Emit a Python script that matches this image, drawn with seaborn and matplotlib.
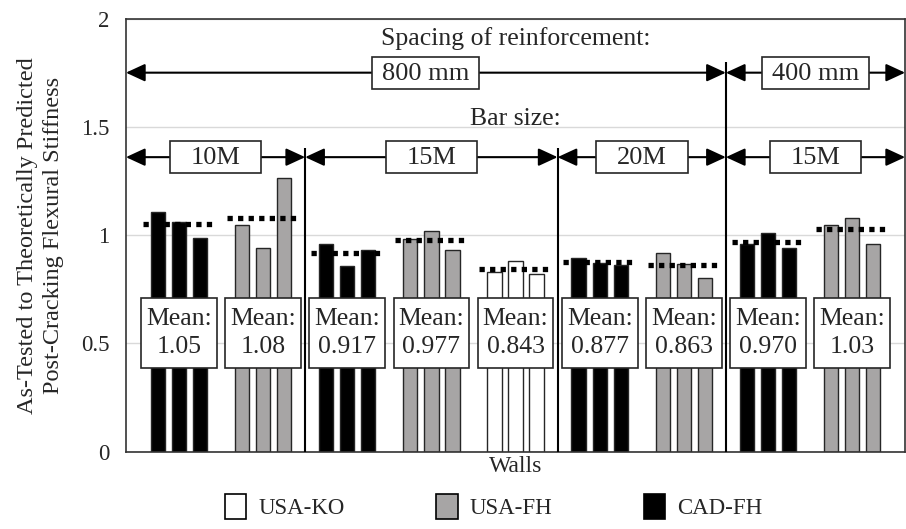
import matplotlib
matplotlib.use("Agg")
import matplotlib.pyplot as plt
import seaborn as sns
import pandas as pd
import numpy as np
from matplotlib.patches import Patch, Rectangle

# wall groups (left to right), each with three walls
group_types = ["CAD-FH", "USA-FH", "CAD-FH", "USA-FH", "USA-KO",
               "CAD-FH", "USA-FH", "CAD-FH", "USA-FH"]
wall_values = [
    [1.108, 1.061, 0.989],
    [1.046, 0.939, 1.263],
    [0.958, 0.858, 0.932],
    [0.980, 1.020, 0.930],
    [0.828, 0.882, 0.819],
    [0.895, 0.872, 0.864],
    [0.918, 0.868, 0.803],
    [0.960, 1.010, 0.940],
    [1.046, 1.077, 0.957],
]
mean_labels = ["1.05", "1.08", "0.917", "0.977", "0.843",
               "0.877", "0.863", "0.970", "1.03"]
bar_sizes = ["10M", "15M", "20M", "15M"]
bar_size_groups = [(0, 1), (2, 4), (5, 6), (7, 8)]
spacings = ["800 mm", "400 mm"]
spacing_groups = [(0, 6), (7, 8)]
legend_order = ["USA-KO", "USA-FH", "CAD-FH"]

palette = {"USA-KO": "white", "USA-FH": "#a7a5a5", "CAD-FH": "black"}

rows = []
for g, (kind, vals) in enumerate(zip(group_types, wall_values)):
    for i, v in enumerate(vals):
        rows.append({"pos": g + (i - 1) * 0.25, "value": v, "type": kind})
df = pd.DataFrame(rows)

sns.set_style("white")
plt.rcParams["font.family"] = ["Liberation Serif", "DejaVu Serif"]

fig = plt.figure(figsize=(9.06, 5.29), dpi=100)
ax = fig.add_axes([0.139, 0.146, 0.860, 0.819])
ax.set_axisbelow(True)
ax.yaxis.grid(True, color="#d9d9d9", lw=1)

sns.barplot(data=df, x="pos", y="value", hue="type", native_scale=True,
            dodge=False, palette=palette, width=0.68, errorbar=None,
            legend=False, edgecolor="#262626", linewidth=1, ax=ax)

xmin, xmax = -0.63, len(group_types) - 1 + 0.63
ax.set_xlim(xmin, xmax)
ax.set_ylim(0, 2)
ax.set_xticks([])
ax.set_yticks([0, 0.5, 1, 1.5, 2])
ax.set_yticklabels(["0", "0.5", "1", "1.5", "2"], fontsize=16.5)
ax.tick_params(axis="y", length=0, pad=12)
for s in ax.spines.values():
    s.set_color("#333333")
    s.set_linewidth(1.2)

# mean lines and boxes
for g, lab in enumerate(mean_labels):
    m = float(lab)
    ax.plot([g - 0.43, g + 0.40], [m, m], color="black", lw=3.8,
            linestyle=(0, (1, 1)), dash_capstyle="butt", zorder=4)
    ax.add_patch(Rectangle((g - 0.45, 0.387), 0.9, 0.323, facecolor="white",
                           edgecolor="#262626", lw=1.2, zorder=5))
    ax.text(g, 0.548, "Mean:\n" + lab, ha="center", va="center",
            fontsize=18.5, linespacing=1.4, zorder=6)

# dividers
for a, b in bar_size_groups[:-1]:
    top = 1.80 if b == spacing_groups[0][1] else 1.40
    ax.vlines(b + 0.5, 0, top, color="black", lw=1.5, zorder=3)


def dim_arrow(x0, x1, y, label, box_w):
    ax.annotate("", xy=(x1, y), xytext=(x0, y),
                arrowprops=dict(arrowstyle="<|-|>,head_length=0.65,head_width=0.3",
                                color="black", lw=1.5, shrinkA=0, shrinkB=0,
                                mutation_scale=18), zorder=3)
    c = (x0 + x1) / 2
    ax.add_patch(Rectangle((c - box_w / 2, y - 0.074), box_w, 0.148,
                           facecolor="white", edgecolor="#262626", lw=1.2, zorder=5))
    ax.text(c, y - 0.005, label, ha="center", va="center", fontsize=19, zorder=6)


edges = lambda a, b: (xmin if a == 0 else a - 0.5,
                      xmax if b == len(group_types) - 1 else b + 0.5)

for lab, (a, b) in zip(spacings, spacing_groups):
    x0, x1 = edges(a, b)
    dim_arrow(x0, x1, 1.75, lab, 1.27)
for lab, (a, b) in zip(bar_sizes, bar_size_groups):
    x0, x1 = edges(a, b)
    dim_arrow(x0, x1, 1.36, lab, 1.09)

ax.text((xmin + xmax) / 2, 1.91, "Spacing of reinforcement:", ha="center",
        va="center", fontsize=18.5)
ax.text((xmin + xmax) / 2, 1.535, "Bar size:", ha="center", va="center",
        fontsize=18.5)

ax.set_xlabel("Walls", fontsize=17, labelpad=3)
ax.set_ylabel("As-Tested to Theoretically Predicted\nPost-Cracking Flexural Stiffness",
              fontsize=17.5, labelpad=12, linespacing=1.3)

handles = [Patch(facecolor=palette[k], edgecolor="black", lw=1.2, label=k)
           for k in legend_order]
fig.legend(handles=handles, loc="center", bbox_to_anchor=(0.545, 0.043),
           ncol=3, frameon=False, fontsize=16.5, handlelength=0.92,
           handleheight=1.3, handletextpad=0.52, columnspacing=4.0)

fig.savefig("out.png", dpi=100)
